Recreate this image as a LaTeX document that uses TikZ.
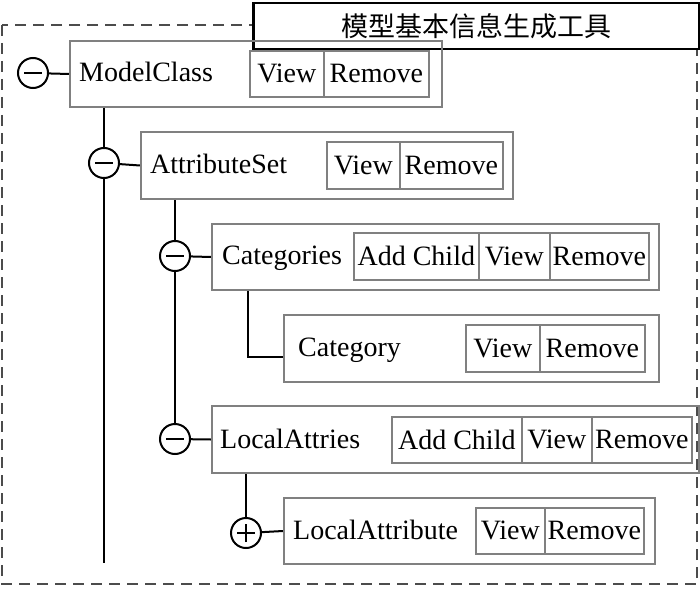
\documentclass[tikz,border=0pt]{standalone}
\usepackage{fontspec}
\setmainfont{Liberation Serif}
\newfontfamily\cjkfont{Noto Sans CJK SC}
\usetikzlibrary{backgrounds}

\tikzset{
  panel/.style={draw=black!50, line width=2pt, anchor=north west, inner sep=0pt},
  btn/.style={draw=black!50, line width=1.6pt, anchor=north west, inner sep=0pt,
    font=\fontsize{28}{32}\selectfont},
  itemlabel/.style={anchor=base west, inner sep=0pt, font=\fontsize{28}{32}\selectfont},
  toggle/.style={circle, draw, line width=2pt, fill=white, minimum size=30pt, inner sep=0pt},
  collapse/.style={toggle, path picture={
    \draw[line width=2pt] ([xshift=-9pt]path picture bounding box.center)
      -- ([xshift=9pt]path picture bounding box.center);}},
  expand/.style={toggle, path picture={
    \draw[line width=2pt] ([xshift=-9pt]path picture bounding box.center)
      -- ([xshift=9pt]path picture bounding box.center);
    \draw[line width=2pt] ([yshift=-9pt]path picture bounding box.center)
      -- ([yshift=9pt]path picture bounding box.center);}},
  treeline/.style={line width=2pt, black},
}

\begin{document}
\begin{tikzpicture}[x=1pt, y=-1pt]

  \useasboundingbox (0,0) rectangle (700,588);

  % ---- (0) outer dashed frame and title ----
  \draw[black!70, line width=2.5pt, dash pattern=on 11pt off 7pt]
    (2,25) rectangle (697,584);
  \node[draw, line width=2.5pt, fill=white, anchor=north west, inner sep=0pt,
        minimum width=446pt, minimum height=46pt,
        font=\cjkfont\fontsize{27}{30}\selectfont] (title) at (252,2) {模型基本信息生成工具};

  % ---- (1) ModelClass ----
  \node[panel, minimum width=372pt, minimum height=66pt] (mc) at (69,40) {};
  \node[itemlabel] (mclabel) at (79,82) {ModelClass};
  \node[btn, minimum width=74pt, minimum height=46pt] (mcview) at (249,50) {View};
  \node[btn, minimum width=105pt, minimum height=46pt] (mcremove) at (323,50) {Remove};
  \node[collapse] (tmc) at (33,73) {};

  % ---- (2) AttributeSet ----
  \node[panel, minimum width=372pt, minimum height=67pt] (as) at (140,131) {};
  \node[itemlabel] (aslabel) at (150,173) {AttributeSet};
  \node[btn, minimum width=73pt, minimum height=47pt] (asview) at (326,141) {View};
  \node[btn, minimum width=103pt, minimum height=47pt] (asremove) at (399,141) {Remove};
  \node[collapse] (tas) at (104,163) {};

  % ---- (3) Categories ----
  \node[panel, minimum width=447pt, minimum height=66pt] (cat) at (211,223) {};
  \node[itemlabel] (catlabel) at (222,264) {Categories};
  \node[btn, minimum width=125pt, minimum height=47pt] (catadd) at (353,232) {Add Child};
  \node[btn, minimum width=71pt, minimum height=47pt] (catview) at (478,232) {View};
  \node[btn, minimum width=99pt, minimum height=47pt] (catremove) at (549,232) {Remove};
  \node[collapse] (tcat) at (175,256) {};

  % ---- (4) Category ----
  \node[panel, minimum width=375pt, minimum height=67pt] (cy) at (283,314) {};
  \node[itemlabel] (cylabel) at (298,356) {Category};
  \node[btn, minimum width=74pt, minimum height=47pt] (cyview) at (465,324) {View};
  \node[btn, minimum width=105pt, minimum height=47pt] (cyremove) at (539,324) {Remove};
  \coordinate (cyjoin) at (248,357);

  % ---- (5) LocalAttries ----
  \node[panel, minimum width=487pt, minimum height=67pt] (la) at (211,405) {};
  \node[itemlabel] (lalabel) at (220,448) {LocalAttries};
  \node[btn, minimum width=130pt, minimum height=46pt] (laadd) at (391,416) {Add Child};
  \node[btn, minimum width=70pt, minimum height=46pt] (laview) at (521,416) {View};
  \node[btn, minimum width=100pt, minimum height=46pt] (laremove) at (591,416) {Remove};
  \node[collapse] (tla) at (175,439) {};

  % ---- (6) LocalAttribute ----
  \node[panel, minimum width=371pt, minimum height=66pt] (lat) at (283,497) {};
  \node[itemlabel] (latlabel) at (293,539) {LocalAttribute};
  \node[btn, minimum width=69pt, minimum height=46pt] (latview) at (475,507) {View};
  \node[btn, minimum width=99pt, minimum height=46pt] (latremove) at (544,507) {Remove};
  \node[expand] (tlat) at (246,533) {};

  \coordinate (mcend) at (104,563);

  % ---- tree connectors (behind the toggles) ----
  \begin{scope}[on background layer]
    \draw[treeline] (tmc) -- (mc.west);
    \draw[treeline] (mc.south -| tas) -- (mcend);
    \draw[treeline] (tas) -- (as.west);
    \draw[treeline] (as.south -| tcat) -- (tla.north);
    \draw[treeline] (tcat) -- (cat.west);
    \draw[treeline] (cat.south -| cyjoin) -- (cyjoin) -- (cyjoin -| cy.west);
    \draw[treeline] (tla) -- (la.west);
    \draw[treeline] (la.south -| tlat) -- (tlat.north);
    \draw[treeline] (tlat) -- (lat.west);
  \end{scope}

\end{tikzpicture}
\end{document}
